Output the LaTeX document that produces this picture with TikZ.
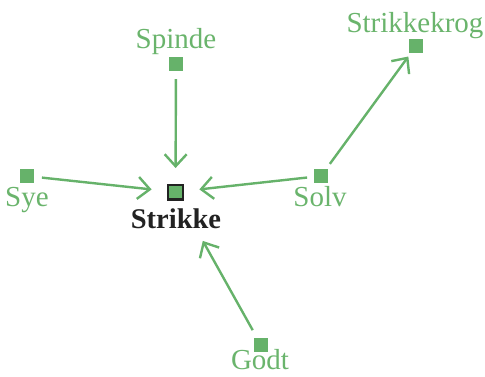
\documentclass[tikz,border=0pt]{standalone}
\usepackage{fontspec}
\setmainfont{Liberation Serif}
\usetikzlibrary{arrows.meta}
\definecolor{gr}{RGB}{102,178,106}
\definecolor{grt}{RGB}{106,180,108}
\definecolor{dk}{RGB}{34,34,34}
\begin{document}
\begin{tikzpicture}[x=1pt,y=-1pt,
 sq/.style={draw=none,fill=gr,minimum size=14pt,inner sep=0pt,outer sep=0pt},
 hub/.style={draw=dk,line width=2.4pt,fill=gr,minimum size=14.6pt,inner sep=0pt},
 lbl/.style={text=grt,font=\fontsize{29}{32}\selectfont,anchor=base,inner sep=0pt},
 hublbl/.style={text=dk,font=\fontsize{28.5}{32}\selectfont\bfseries,anchor=base,inner sep=0pt},
 link/.style={draw=gr,line width=2.4pt,-{Straight Barb[length=12pt,width=22pt,line width=2.4pt]}}]
\useasboundingbox (0,0) rectangle (485,376);
% squares
\node[hub] (strikke) at (175.5,192) {};
\node[sq] (spinde) at (176,64) {};
\node[sq] (krog) at (416,46) {};
\node[sq] (sye) at (27,176) {};
\node[sq] (solv) at (321,176) {};
\node[sq] (godt) at (261,345) {};
% labels
\node[hublbl] (lstrikke) at (176,228) {Strikke};
\node[lbl] (lspinde) at (176,48) {Spinde};
\node[lbl] (lkrog) at (415,32) {Strikkekrog};
\node[lbl] (lsye) at (27,206) {Sye};
\node[lbl] (lsolv) at (320,206) {Solv};
\node[lbl] (lgodt) at (260,369) {Godt};
% connectors
\draw[link, shorten <=15pt, shorten >=24pt] (spinde.center) -- (strikke.center);
\draw[link, shorten <=15pt, shorten >=24pt] (sye.center) -- (strikke.center);
\draw[link, shorten <=14pt, shorten >=24pt] (solv.center) -- (strikke.center);
\draw[link, shorten <=15pt, shorten >=13pt] (solv.center) -- (krog.center);
\draw[link, shorten <=17pt, shorten >=56pt] (godt.center) -- (strikke.center);
\end{tikzpicture}
\end{document}
